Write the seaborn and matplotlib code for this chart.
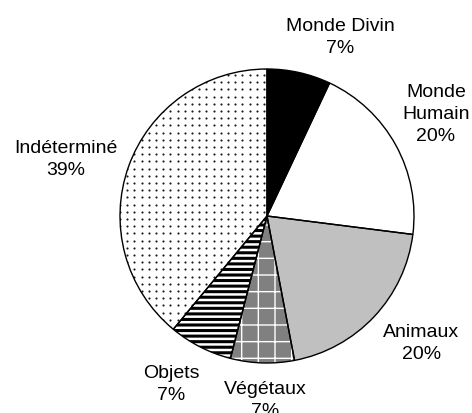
import matplotlib
matplotlib.use("Agg")
import matplotlib.pyplot as plt
import numpy as np
import seaborn as sns

# Share of each category (percent), drawn clockwise from the top
categories = ["Monde Divin", "Monde Humain", "Animaux", "Végétaux", "Objets", "Indéterminé"]
shares = [7, 20, 20, 7, 7, 39]
label_lines = ["Monde Divin\n7%", "Monde\nHumain\n20%", "Animaux\n20%",
               "Végétaux\n7%", "Objets\n7%", "Indéterminé\n39%"]

# Fill styles for each wedge ("dots" is drawn as a clipped dot grid)
face_colors = ["black", "white", "#c0c0c0", "#808080", "white", "white"]
hatch_colors = ["black", "white", "#c0c0c0", "white", "black", "black"]
hatches = [None, None, None, "+", "---", "dots"]
hatch_widths = [1.0, 1.0, 1.0, 1.0, 2.2, 1.0]

# Label anchor points, in units of the pie radius
label_xy = [(0.50, 1.22), (1.15, 0.70), (1.05, -0.86),
            (-0.01, -1.25), (-0.65, -1.14), (-1.37, 0.39)]

sns.set_theme(style="white")
plt.rcParams["font.family"] = ["Liberation Sans", "DejaVu Sans"]

fig = plt.figure(figsize=(4.72, 4.14), dpi=100)
ax = fig.add_axes([0, 0, 1, 1])

r = 147.0  # pie radius in pixels

# Pattern layer
wedges, _ = ax.pie(shares, startangle=90, counterclock=False,
                   colors=face_colors,
                   wedgeprops=dict(linewidth=0))
for w, hc, h, hw in zip(wedges, hatch_colors, hatches, hatch_widths):
    w.set_edgecolor(hc)
    if h == "dots":
        step = 7.2 / r
        g = np.arange(-1.0, 1.0 + step, step)
        gx, gy = np.meshgrid(g, g)
        dots = ax.scatter(gx.ravel(), gy.ravel(), s=2.4, color="#1a1a1a",
                          linewidths=0, zorder=w.get_zorder() + 0.1)
        dots.set_clip_path(w)
    elif h:
        w.set_hatch(h)
        if hasattr(w, "set_hatch_linewidth"):
            w.set_hatch_linewidth(hw)
        else:
            w._hatch_linewidth = hw

# Outline layer
ax.pie(shares, startangle=90, counterclock=False,
       colors=["none"] * len(shares),
       wedgeprops=dict(edgecolor="black", linewidth=1.0, fill=False, zorder=5))

for txt, (x, y) in zip(label_lines, label_xy):
    ax.text(x, y, txt, ha="center", va="center", multialignment="center",
            fontsize=14, linespacing=1.38, color="black")

ax.set_xlim(-267 / r, (472 - 267) / r)
ax.set_ylim(-(414 - 217) / r, 217 / r)
ax.set_aspect("equal", adjustable="datalim")
ax.axis("off")

fig.savefig("out.png", dpi=100, facecolor="white")
